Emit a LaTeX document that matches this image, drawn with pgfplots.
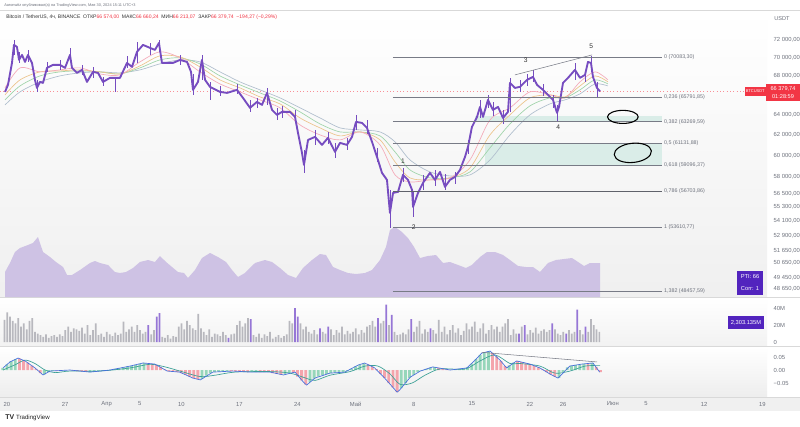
\documentclass[border=0pt]{standalone}
\usepackage{fontspec}
\setmainfont{Liberation Sans}
\usepackage{pgfplots}
\pgfplotsset{compat=1.18}
\usetikzlibrary{shapes.geometric}
\newcommand{\fs}[1]{\fontsize{#1}{#1}\selectfont}
\definecolor{candle}{RGB}{118,76,192}
\definecolor{volg}{RGB}{184,184,190}
\definecolor{volp}{RGB}{150,118,214}
\definecolor{ptic}{RGB}{206,194,228}
\definecolor{tvred}{RGB}{242,54,69}
\definecolor{tvgray}{RGB}{110,114,125}
\definecolor{fibc}{RGB}{120,123,134}
\definecolor{zone}{RGB}{218,237,232}
\definecolor{ma1}{RGB}{244,170,185}
\definecolor{ma2}{RGB}{236,196,140}
\definecolor{ma3}{RGB}{160,212,170}
\definecolor{ma4}{RGB}{176,190,205}
\definecolor{hg}{RGB}{150,214,186}
\definecolor{hr}{RGB}{244,164,172}
\definecolor{macdb}{RGB}{70,110,220}
\definecolor{sigc}{RGB}{60,160,150}
\definecolor{boxp}{RGB}{82,36,190}
\pgfplotsset{pane/.style={scale only axis, width=575.25pt, xmin=-0.843, xmax=91.566,
  axis line style={draw=none}, tick style={draw=none}, xtick=\empty, anchor=south west,
  yticklabel pos=right, yticklabel style={font=\fs{4.4}, text=tvgray, anchor=west, xshift=1.5pt}},
  wick/.style={candle, line width=0.45pt, forget plot}}
\begin{document}
\begin{tikzpicture}[x=0.75pt,y=0.75pt]
\fill[white] (0,0) rectangle (800,426);
\path[use as bounding box] (0,0) rectangle (800,426);
% pane backgrounds
\shade[top color=white, bottom color=black!6] (0,129) rectangle (767,416);
\shade[top color=white, bottom color=black!5] (0,81) rectangle (767,128);
\shade[top color=white, bottom color=black!7] (0,29) rectangle (767,79);
\fill[black!6] (0,15) rectangle (800,29);
\draw[black!15, line width=0.4pt] (0,416) -- (800,416);
\draw[black!15, line width=0.4pt] (0,128.5) -- (800,128.5);
\draw[black!15, line width=0.4pt] (0,80) -- (800,80);
\draw[black!15, line width=0.4pt] (0,29) -- (800,29);
% header
\node[anchor=west, inner sep=0pt, text=tvgray] at (4,421) {\fs{2.9}Aaronwitz опубликовал(а) на TradingView.com, Мая 30, 2024 15:11 UTC+3};
\node[anchor=west, inner sep=0pt, text=black!80] at (6,409) {\fs{3.8}Bitcoin / TetherUS, 4ч, BINANCE\ \ ОТКР\textcolor{tvred}{66 574,00}\ \ МАКС\textcolor{tvred}{66 660,24}\ \ МИН\textcolor{tvred}{66 213,07}\ \ ЗАКР\textcolor{tvred}{66 379,74\ \ −194,27 (−0,29\%)}};
\node[anchor=center, inner sep=0pt, text=tvgray] at (782,407) {\fs{4.2}USDT};

% ---------- PTI overlay area ----------
\begin{axis}[pane, at={(0pt,96.75pt)}, height=215.25pt, ymin=0, ymax=287, ytick=\empty]
\addplot[fill=ptic, draw=none] coordinates {
(-0.24,25)(0.36,34)(0.96,45)(1.57,49)(2.53,52)(3.13,54)(3.73,60)(4.34,45)(5.18,40)(5.90,35)
(6.75,30)(7.23,22)(7.83,22)(8.80,27)(10.0,34)(10.6,36)(11.2,34)(12.17,32)(13.01,25)(13.61,24)
(14.34,25)(15.18,29)(16.02,35)(16.99,37)(17.83,35)(18.43,41)(19.16,35)(19.88,30)(20.60,25)(21.33,24)
(21.81,19)(22.65,27)(23.49,39)(24.46,44)(25.42,40)(26.39,35)(27.11,27)(27.83,20)(28.67,24)(29.88,34)
(31.08,37)(31.93,35)(32.89,29)(33.86,22)(34.82,19)(35.66,29)(36.75,37)(37.71,43)(38.43,42)(39.28,30)
(40.12,27)(41.08,24)(42.05,23)(43.13,24)(43.98,27)(44.94,37)(45.66,50)(46.14,67)(46.75,70)(47.59,65)
(48.31,59)(49.04,50)(49.76,39)(50.72,41)(51.69,42)(52.53,34)(53.37,35)(54.34,32)(55.30,29)(56.02,32)
(56.99,40)(57.83,45)(58.80,45)(59.76,42)(60.60,37)(61.57,31)(62.53,30)(63.37,30)(64.22,25)(65.18,34)
(66.14,37)(67.11,38)(68.07,39)(68.80,35)(69.52,31)(70.24,34)(70.96,34)(71.45,34)
} \closedcycle;
\end{axis}

% ---------- Price pane ----------
\begin{axis}[pane, at={(0pt,96.75pt)}, height=215.25pt, ymode=log, ymin=48010, ymax=75471,
  ytick={48650,49450,50650,51650,52900,54100,55300,56500,58000,60000,62000,64000,68000,70000,72000},
  yticklabels={{48 650,00},{49 450,00},{50 650,00},{51 650,00},{52 900,00},{54 100,00},{55 300,00},{56 500,00},{58 000,00},{60 000,00},{62 000,00},{64 000,00},{68 000,00},{70 000,00},{72 000,00}}]
% zones
\fill[zone] (axis cs:56.4,63860) rectangle (axis cs:78.9,63269.59);
\fill[zone] (axis cs:57.6,61131.88) rectangle (axis cs:78.9,59096.37);
% current price line
\draw[tvred!55, dotted, line width=0.5pt] (axis cs:-0.843,66379.74) -- (axis cs:91.566,66379.74);
% moving averages
\addplot[ma4, line width=0.5pt, smooth] coordinates {(-0.24,64977)(1.57,66322)(3.98,67376)(6.39,68015)(8.80,68338)(11.20,68446)(13.61,68338)(16.02,68662)(18.43,69314)(20.84,69752)(23.25,69533)(25.66,68446)(28.07,67376)(30.48,66531)(32.89,65697)(35.30,64671)(37.71,63659)(40.12,62665)(42.53,62466)(44.94,62269)(46.75,61297)(48.55,59581)(50.96,58466)(53.37,58097)(55.78,58191)(58.19,59581)(60.60,61976)(63.01,63961)(65.42,65079)(67.23,65491)(69.04,66113)(70.84,67163)(72.4,66952)};
\addplot[ma3, line width=0.5pt, smooth] coordinates {(-0.24,65491)(1.57,66952)(3.98,68015)(6.39,68446)(8.80,68554)(11.20,68446)(13.61,68230)(16.02,68878)(18.43,69752)(20.84,69973)(23.25,69314)(25.66,68015)(28.07,67058)(30.48,66217)(32.89,65388)(35.30,64264)(37.71,63060)(40.12,62269)(42.53,62269)(44.94,61878)(46.75,60338)(48.55,58651)(50.96,57914)(53.37,57914)(55.78,58466)(58.19,60719)(60.60,63060)(63.01,64874)(65.42,65697)(67.23,65697)(69.04,66531)(70.84,67588)(72.4,67163)};
\addplot[ma2, line width=0.5pt, smooth] coordinates {(-0.24,66009)(1.57,67588)(3.98,68446)(6.39,68554)(8.80,68662)(11.20,68446)(13.61,68230)(16.02,69096)(18.43,70193)(20.84,70083)(23.25,68987)(25.66,67588)(28.07,66742)(30.48,65801)(32.89,65079)(35.30,63659)(37.71,62665)(40.12,61878)(42.53,62269)(44.94,61490)(46.75,59393)(48.55,57914)(50.96,57734)(53.37,57914)(55.78,58834)(58.19,61976)(60.60,63961)(63.01,65697)(65.42,66009)(67.23,65801)(69.04,66952)(70.84,68015)(72.4,67376)};
\addplot[ma1, line width=0.5pt, smooth] coordinates {(-0.24,66742)(1.57,68878)(3.98,68446)(6.39,68662)(8.80,68878)(11.20,68230)(13.61,68123)(16.02,69533)(18.43,70637)(20.84,69973)(23.25,68446)(25.66,67163)(28.07,66322)(30.48,65491)(32.89,64671)(35.30,62960)(37.71,61976)(40.12,61490)(42.53,62269)(44.94,61008)(46.75,58191)(48.55,57550)(50.96,57734)(53.37,57914)(55.78,59581)(58.19,63459)(60.60,64671)(63.01,66322)(65.42,66009)(67.23,65697)(69.04,67376)(70.84,68446)(72.4,67588)};
% wicks
\addplot[wick] coordinates {(0.84,70305)(0.84,71986)};
\addplot[wick] coordinates {(1.45,69424)(1.45,70637)};
\addplot[wick] coordinates {(2.53,69533)(2.53,70860)};
\addplot[wick] coordinates {(3.61,66322)(3.61,67588)};
\addplot[wick] coordinates {(4.82,68446)(4.82,69533)};
\addplot[wick] coordinates {(6.39,68662)(6.39,69752)};
\addplot[wick] coordinates {(7.59,69533)(7.59,71085)};
\addplot[wick] coordinates {(9.04,68123)(9.04,69205)};
\addplot[wick] coordinates {(10.36,67802)(10.36,68987)};
\addplot[wick] coordinates {(11.57,66952)(11.57,67909)};
\addplot[wick] coordinates {(13.00,66322)(13.00,67802)};
\addplot[wick] coordinates {(14.46,68878)(14.46,70193)};
\addplot[wick] coordinates {(15.66,69424)(15.66,71760)};
\addplot[wick] coordinates {(17.23,70305)(17.23,71647)};
\addplot[wick] coordinates {(18.31,70637)(18.31,71986)};
\addplot[wick] coordinates {(20.84,69205)(20.84,70305)};
\addplot[wick] coordinates {(22.41,66009)(22.41,68230)};
\addplot[wick] coordinates {(23.49,67588)(23.49,70305)};
\addplot[wick] coordinates {(24.46,65491)(24.46,67376)};
\addplot[wick] coordinates {(25.66,65905)(25.66,66952)};
\addplot[wick] coordinates {(27.71,66113)(27.71,67163)};
\addplot[wick] coordinates {(29.28,64264)(29.28,65491)};
\addplot[wick] coordinates {(30.12,64671)(30.12,65697)};
\addplot[wick] coordinates {(31.33,64977)(31.33,66742)};
\addplot[wick] coordinates {(32.53,63459)(32.53,64671)};
\addplot[wick] coordinates {(33.13,63659)(33.13,64874)};
\addplot[wick] coordinates {(34.70,63259)(34.70,64467)};
\addplot[wick] coordinates {(35.78,58374)(35.78,60528)};
\addplot[wick] coordinates {(37.11,61008)(37.11,62466)};
\addplot[wick] coordinates {(38.67,61103)(38.67,62269)};
\addplot[wick] coordinates {(39.52,59769)(39.52,61200)};
\addplot[wick] coordinates {(40.96,60528)(40.96,61685)};
\addplot[wick] coordinates {(42.05,62466)(42.05,63961)};
\addplot[wick] coordinates {(43.37,62073)(43.37,63459)};
\addplot[wick] coordinates {(44.58,59393)(44.58,60719)};
\addplot[wick] coordinates {(46.14,53533)(46.14,56830)};
\addplot[wick] coordinates {(47.71,57550)(47.71,58834)};
\addplot[wick] coordinates {(48.92,54467)(48.92,56651)};
\addplot[wick] coordinates {(50.12,56830)(50.12,58191)};
\addplot[wick] coordinates {(51.57,57188)(51.57,58651)};
\addplot[wick] coordinates {(52.77,56830)(52.77,58281)};
\addplot[wick] coordinates {(53.98,57369)(53.98,58466)};
\addplot[wick] coordinates {(55.54,60147)(55.54,61490)};
\addplot[wick] coordinates {(56.99,63659)(56.99,65491)};
\addplot[wick] coordinates {(57.95,64671)(57.95,66009)};
\addplot[wick] coordinates {(58.55,63859)(58.55,65285)};
\addplot[wick] coordinates {(59.76,63060)(59.76,64467)};
\addplot[wick] coordinates {(60.60,64264)(60.60,67802)};
\addplot[wick] coordinates {(61.81,66322)(61.81,67588)};
\addplot[wick] coordinates {(62.65,66952)(62.65,68230)};
\addplot[wick] coordinates {(63.37,67376)(63.37,68662)};
\addplot[wick] coordinates {(64.58,65905)(64.58,67163)};
\addplot[wick] coordinates {(65.78,64671)(65.78,66009)};
\addplot[wick] coordinates {(66.27,63259)(66.27,64977)};
\addplot[wick] coordinates {(68.43,67588)(68.43,69424)};
\addplot[wick] coordinates {(69.64,67376)(69.64,68662)};
\addplot[wick] coordinates {(70.36,68446)(70.36,70193)};
\addplot[wick] coordinates {(71.08,65697)(71.08,67376)};
% price
\addplot[candle, line width=1.4pt, line join=round] coordinates {
(-0.24,66322)(0.12,67058)(0.60,69424)(0.84,71421)(1.20,71196)(1.45,69752)(1.81,70305)(2.17,69533)(2.53,70305)(3.01,69424)
(3.37,67588)(3.61,66742)(3.98,67376)(4.34,67270)(4.82,68878)(5.54,69205)(6.39,69205)(6.99,68878)(7.59,70305)(7.83,68878)
(8.43,68338)(9.04,68662)(9.64,67376)(10.36,68446)(10.96,68338)(11.57,67376)(12.41,67802)(13.61,67802)(14.46,69424)(15.06,68987)
(15.66,70637)(16.39,71421)(17.23,71085)(17.83,70860)(18.31,71647)(18.67,69424)(19.28,69424)(20.00,69424)(20.84,69752)(21.69,69533)
(22.17,68446)(22.41,66531)(23.01,67376)(23.49,69752)(23.86,67588)(24.46,66847)(25.66,66322)(26.51,66217)(27.71,66531)(28.43,65697)
(29.28,64671)(30.12,65285)(30.72,64977)(31.33,66217)(31.93,64467)(32.53,63961)(33.13,64264)(34.10,64264)(34.70,63760)(35.06,62173)
(35.54,60243)(35.78,59113)(36.27,61490)(37.11,61782)(37.95,61008)(38.67,61685)(39.52,60338)(40.12,61200)(40.96,61008)(41.57,61782)
(42.05,63259)(42.77,63160)(43.37,62665)(43.98,61297)(44.58,59865)(45.18,58374)(45.78,57734)(46.14,54812)(46.51,56562)(47.11,56651)
(47.71,58191)(48.31,57734)(48.80,56830)(48.92,55328)(49.52,56562)(50.12,57462)(50.96,58374)(51.57,57734)(52.17,58466)(52.77,57100)
(53.37,57734)(53.98,58007)(54.58,58651)(55.18,59865)(55.54,60816)(56.02,62764)(56.63,63760)(56.99,64773)(57.35,63760)(57.95,65491)
(58.55,64467)(59.16,64773)(59.76,63659)(60.36,64264)(60.60,67270)(61.20,66742)(61.81,66847)(62.65,67588)(63.37,67909)(63.86,67058)
(64.58,66531)(65.18,66009)(65.78,65491)(66.27,64163)(66.51,64773)(66.99,67270)(67.59,67802)(68.43,68662)(69.04,67802)(69.64,68123)
(70.00,69533)(70.36,69424)(70.60,67909)(71.08,66742)(71.45,66380)};
% fibonacci levels
\draw[fibc, line width=0.45pt] (axis cs:46.5,70083.30) -- (axis cs:78.9,70083.30) node[right, font=\fs{4}, text=tvgray, inner sep=1.5pt] {0 (70083,30)};
\draw[fibc, line width=0.45pt] (axis cs:46.5,65791.85) -- (axis cs:78.9,65791.85) node[right, font=\fs{4}, text=tvgray, inner sep=1.5pt] {0,236 (65791,85)};
\draw[fibc, line width=0.45pt] (axis cs:46.5,63269.59) -- (axis cs:78.9,63269.59) node[right, font=\fs{4}, text=tvgray, inner sep=1.5pt] {0,382 (63269,59)};
\draw[fibc, line width=0.45pt] (axis cs:46.5,61131.88) -- (axis cs:78.9,61131.88) node[right, font=\fs{4}, text=tvgray, inner sep=1.5pt] {0,5 (61131,88)};
\draw[fibc, line width=0.45pt] (axis cs:46.5,59096.37) -- (axis cs:78.9,59096.37) node[right, font=\fs{4}, text=tvgray, inner sep=1.5pt] {0,618 (59096,37)};
\draw[fibc!80!black, line width=0.55pt] (axis cs:46.5,56703.86) -- (axis cs:78.9,56703.86) node[right, font=\fs{4}, text=tvgray, inner sep=1.5pt] {0,786 (56703,86)};
\draw[fibc, line width=0.45pt] (axis cs:46.5,53610.77) -- (axis cs:78.9,53610.77) node[right, font=\fs{4}, text=tvgray, inner sep=1.5pt] {1 (53610,77)};
\draw[fibc, line width=0.45pt] (axis cs:46.5,48457.59) -- (axis cs:78.9,48457.59) node[right, font=\fs{4}, text=tvgray, inner sep=1.5pt] {1,382 (48457,59)};
% trend line
\draw[fibc, line width=0.4pt] (axis cs:61.2,68123) -- (axis cs:70.5,70305);
% hand drawn ellipses
\node[draw=black, line width=0.8pt, ellipse, minimum width=23pt, minimum height=9.8pt, inner sep=0pt] at (axis cs:74.2,63760) {};
\node[draw=black, line width=0.8pt, ellipse, minimum width=28pt, minimum height=14.4pt, inner sep=0pt, rotate=6] at (axis cs:75.4,60243) {};
% wave labels
\node[font=\fs{5}, text=black!80] at (axis cs:47.7,59487) {1};
\node[font=\fs{5}, text=black!80] at (axis cs:49.0,53615) {2};
\node[font=\fs{5}, text=black!80] at (axis cs:62.5,69752) {3};
\node[font=\fs{5}, text=black!80] at (axis cs:66.4,62764) {4};
\node[font=\fs{5}, text=black!80] at (axis cs:70.4,71309) {5};
\end{axis}

% ---------- Volume pane ----------
\begin{axis}[pane, at={(0pt,60.75pt)}, height=35.25pt, ymin=-3.5, ymax=51.8,
  ytick={0,20,40}, yticklabels={0,20M,40M}]
\addplot[ybar, bar width=0.21, bar shift=0pt, fill=volg, draw=none] coordinates {
(-0.3,26)(0.03,35)(0.37,30)(0.7,25)(1.03,22)(1.37,28)(1.7,18)(2.03,22)(2.37,15)(2.7,25)(3.03,28)(3.37,12)
(3.7,10)(4.03,8)(4.37,6)(4.7,9)(5.03,5)(5.37,7)(5.7,8)(6.03,6)(6.37,9)(6.7,7)(7.03,14)(7.37,18)
(7.7,12)(8.03,16)(8.37,15)(8.7,13)(9.03,17)(9.37,10)(9.7,20)(10.03,8)(10.37,14)(10.7,22)(11.03,8)(11.37,10)
(11.7,6)(12.03,12)(12.37,9)(12.7,7)(13.03,11)(13.37,8)(13.7,10)(14.03,24)(14.37,12)(14.7,15)(15.03,18)(15.37,12)
(15.7,20)(16.03,14)(16.37,10)(16.7,12)(17.37,9)(17.7,14)(18.7,6)(19.03,5)(19.37,8)(19.7,4)(20.03,7)(20.37,6)
(20.7,18)(21.03,22)(21.37,15)(21.7,25)(22.03,20)(22.37,16)(22.7,14)(23.03,33)(23.37,16)(23.7,12)(24.03,8)(24.37,15)
(24.7,6)(25.03,10)(25.37,9)(25.7,7)(26.03,12)(26.37,8)(27.03,9)(27.37,10)(27.7,20)(28.03,25)(28.37,18)(28.7,22)(29.03,28)
(29.7,8)(30.03,6)(30.37,10)(30.7,5)(31.03,9)(31.37,7)(31.7,12)(32.03,4)(32.37,6)(32.7,8)(33.03,5)(33.37,7)
(33.7,9)(34.03,25)(34.37,22)(35.37,22)(35.7,15)(36.03,18)(36.37,12)(36.7,10)(37.03,14)(37.37,9)(38.03,12)(38.37,10)
(39.03,15)(39.37,8)(39.7,14)(40.03,11)(40.37,18)(40.7,9)(41.03,13)(41.37,10)(41.7,12)(42.03,16)(42.37,9)
(42.7,14)(43.03,11)(43.37,18)(43.7,20)(44.03,25)(44.37,18)(45.03,22)(45.37,25)(46.03,20)(46.7,12)(47.03,8)(47.37,9)
(47.7,11)(48.03,9)(48.37,15)(49.03,12)(49.37,18)(49.7,25)(50.03,10)(50.37,15)(50.7,12)(51.37,14)
(51.7,10)(52.03,26)(52.37,12)(52.7,18)(53.03,9)(53.37,14)(53.7,20)(54.03,11)(54.37,16)(54.7,8)(55.03,13)(55.37,22)
(55.7,15)(56.03,18)(56.37,24)(56.7,12)(57.03,16)(57.37,22)(57.7,10)(58.03,14)(58.37,20)(58.7,15)(59.03,18)(59.37,12)
(59.7,18)(60.03,22)(60.37,27)(60.7,8)(61.03,15)(61.37,10)(62.03,18)(62.7,9)(63.03,14)(63.37,11)
(63.7,17)(64.03,10)(64.37,13)(64.7,15)(65.03,12)(65.37,14)(66.03,15)(66.37,10)(66.7,8)(67.03,12)
(67.7,14)(68.03,10)(68.37,12)(69.03,14)(69.37,9)(70.03,12)(70.37,27)(70.7,20)(71.03,15)(71.37,12)};
\addplot[ybar, bar width=0.21, bar shift=0pt, fill=volp, draw=none] coordinates {
(17.03,20)(18.03,30)(18.37,34)(26.7,5)(29.37,27)(34.7,40)(35.03,30)(37.7,16)(38.7,18)(44.7,28)(45.7,44)(46.37,32)
(48.7,27)(51.03,16)(61.7,10)(62.37,20)(65.7,22)(67.37,10)(68.7,38)(69.7,18)};
\end{axis}

% ---------- MACD pane ----------
\begin{axis}[pane, at={(0pt,21.75pt)}, height=37.5pt, ymin=-0.1038, ymax=0.0885,
  ytick={-0.05,0,0.05}, yticklabels={{−0.05},{0.00},{0.05}},
  xtick={0,7,12,16,21,28,35,42,49,56,63,67,73,77,84,91},
  xticklabels={20,27,Апр,5,10,17,24,Май,8,15,22,26,Июн,5,12,19},
  xticklabel style={font=\fs{4.4}, text=tvgray, anchor=center, yshift=-5.25pt}]
\addplot[ybar, bar width=0.34, bar shift=0pt, fill=hg, draw=none] coordinates {
(-0.5,0.008)(0,0.022)(0.5,0.034)(1,0.042)(4.5,-0.017)(5,-0.007)(5.5,-0.003)(6.5,-0.001)(10,-0.008)(10.5,-0.007)
(11,-0.005)(11.5,-0.003)(12,-0.001)(12.5,0.001)(13,0.004)(13.5,0.007)(14,0.010)(14.5,0.013)(15,0.016)(15.5,0.020)
(16,0.024)(16.5,0.027)(23.5,-0.034)(24,-0.022)(24.5,-0.012)(25,-0.007)(25.5,-0.006)(26,-0.005)(26.5,-0.004)(29.5,-0.008)
(30,-0.008)(33.5,-0.017)(34,-0.012)(36.5,-0.046)(37,-0.033)(37.5,-0.025)(38,-0.020)(38.5,-0.015)(39,-0.012)(39.5,-0.010)
(40,-0.009)(40.5,-0.008)(41,-0.004)(41.5,0.004)(42,0.014)(42.5,0.021)(43,0.026)(47.5,-0.070)(48,-0.050)(48.5,-0.030)
(49,-0.019)(49.5,-0.008)(50,-0.002)(50.5,0.004)(51,0.009)(51.5,0.011)(54,0.002)(54.5,0.004)(55,0.006)(55.5,0.010)
(56,0.025)(56.5,0.042)(57,0.058)(57.5,0.068)(58,0.072)(60.5,0.018)(61,0.028)(66.5,-0.030)(67,-0.008)(67.5,0.010)
(68,0.017)(68.5,0.020)(69,0.022)(69.5,0.024)(70.5,0.027)};
\addplot[ybar, bar width=0.34, bar shift=0pt, fill=hr, draw=none] coordinates {
(1.5,0.044)(2,0.037)(2.5,0.028)(3,0.017)(3.5,0.004)(4,-0.012)(6,-0.002)(8,-0.002)(8.5,-0.004)(9,-0.005)(9.5,-0.007)
(17,0.025)(17.5,0.024)(18,0.020)(18.5,0.012)(19,0.002)(19.5,-0.005)(20,-0.006)(20.5,-0.008)(21,-0.012)(21.5,-0.018)
(22,-0.025)(22.5,-0.032)(23,-0.036)(27,-0.004)(27.5,-0.005)(28,-0.006)(28.5,-0.007)(29,-0.008)(30.5,-0.008)(31,-0.008)
(31.5,-0.008)(32,-0.012)(32.5,-0.015)(33,-0.018)(34.5,-0.010)(35,-0.025)(35.5,-0.040)(36,-0.056)(43.5,0.022)(44,0.013)
(44.5,0.003)(45,-0.015)(45.5,-0.031)(46,-0.050)(46.5,-0.068)(47,-0.085)(52,0.008)(52.5,0.005)(53,0.002)(58.5,0.066)
(59,0.052)(59.5,0.035)(60,0.015)(61.5,0.034)(62,0.030)(62.5,0.026)(63,0.023)(63.5,0.017)(64,0.010)(64.5,0.002)
(65,-0.008)(65.5,-0.017)(66,-0.025)(70,0.025)(71,0.012)(71.5,-0.008)};
\addplot[sigc, line width=0.5pt, smooth] coordinates {
(-0.48,0.0)(0.96,0.02)(2.17,0.038)(3.37,0.025)(4.58,0.0)(5.78,-0.01)(7.59,-0.004)(11.2,-0.004)(14.82,0.008)(17.23,0.022)
(19.04,0.012)(20.84,-0.004)(23.25,-0.025)(25.06,-0.02)(27.47,-0.008)(31.69,-0.006)(34.10,-0.012)(35.90,-0.03)(37.11,-0.04)(38.92,-0.02)
(41.33,-0.006)(43.13,0.015)(44.70,0.015)(46.14,-0.015)(47.35,-0.055)(48.80,-0.05)(50.36,-0.02)(52.17,0.004)(55.18,0.004)(56.99,0.035)
(58.80,0.058)(60.60,0.025)(61.81,0.025)(64.22,0.015)(66.02,-0.012)(67.83,-0.004)(69.64,0.015)(71.45,0.018)};
\addplot[macdb, line width=0.5pt] coordinates {
(-0.48,0.008)(0.36,0.031)(1.33,0.046)(2.17,0.035)(3.37,0.008)(4.34,-0.019)(5.18,-0.004)(7.59,0.0)(10.0,-0.008)(12.4,0.0)
(14.8,0.015)(16.4,0.027)(17.8,0.023)(19.3,-0.004)(20.8,-0.008)(22.4,-0.031)(23.3,-0.038)(24.8,-0.008)(27.2,-0.004)(29.3,-0.008)
(31.7,-0.008)(33.3,-0.019)(34.7,-0.008)(35.7,-0.046)(36.1,-0.058)(37.1,-0.031)(38.9,-0.012)(40.7,-0.008)(42.3,0.019)(43.1,0.027)
(44.3,0.008)(45.5,-0.031)(47.0,-0.085)(47.3,-0.077)(48.6,-0.027)(49.8,-0.004)(51.3,0.012)(53.4,0.0)(55.4,0.008)(56.4,0.038)
(57.2,0.065)(58.2,0.073)(59.4,0.038)(60.2,0.008)(61.4,0.035)(63.0,0.023)(64.2,0.008)(65.4,-0.015)(66.4,-0.031)(67.8,0.015)
(69.3,0.023)(70.6,0.027)(71.4,-0.008)};
\draw[fibc, line width=0.4pt] (axis cs:57.2,0.068) -- (axis cs:71.1,0.031);
\end{axis}

% right-side labels
\fill[tvred] (745,330) rectangle (765.5,339);
\node[text=white, inner sep=0pt] at (755.2,334.5) {\fs{3}BTCUSDT};
\fill[tvred] (766,325) rectangle (800,342);
\node[text=white, inner sep=0pt] at (783,337.5) {\fs{4.2}66 379,74};
\node[text=white, inner sep=0pt] at (783,329.5) {\fs{4.2}01:28:59};
\fill[boxp] (737,143) rectangle (763,155);
\node[text=white, inner sep=0pt] at (750,149) {\fs{4.3}PTI: 66};
\fill[boxp] (737,131) rectangle (763,143);
\node[text=white, inner sep=0pt] at (750,137) {\fs{4.3}Corr: 1};
\fill[boxp] (728,97) rectangle (764,110);
\node[text=white, inner sep=0pt] at (746,103.5) {\fs{4.3}2,303.135M};
% footer logo
\node[anchor=west, inner sep=0pt, text=black!85] at (5,8) {\fs{5.2}\bfseries TV\ \mdseries\fs{4.6}TradingView};
\end{tikzpicture}
\end{document}
